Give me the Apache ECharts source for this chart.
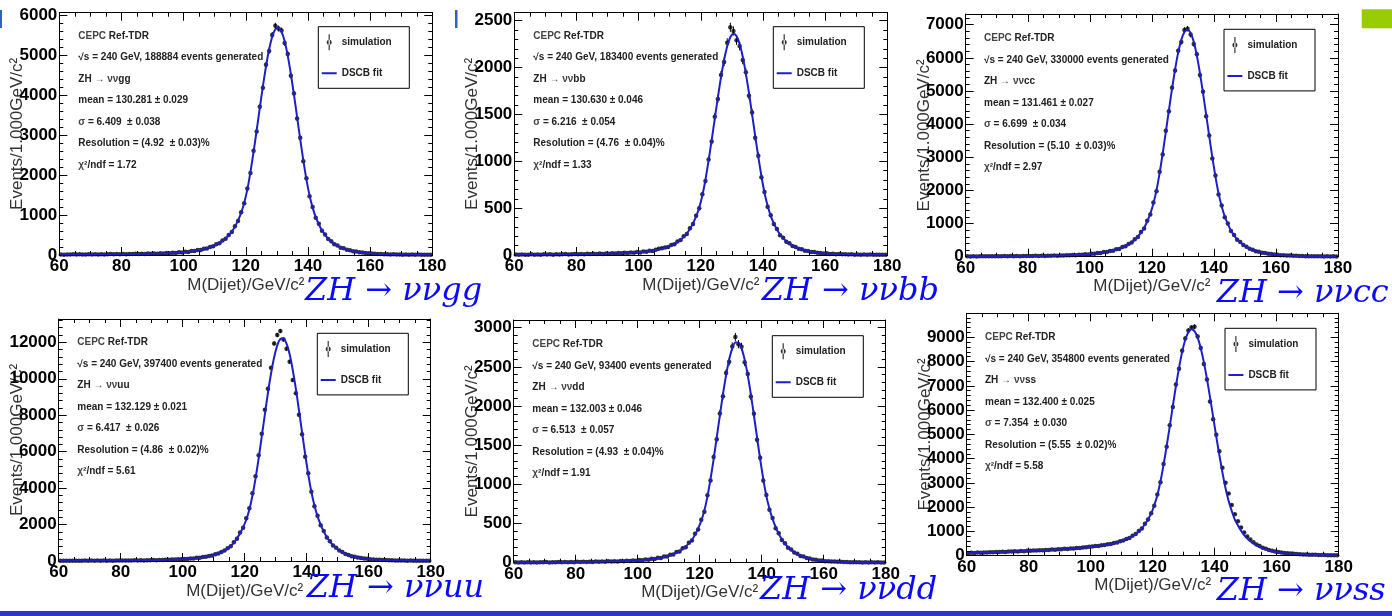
<!DOCTYPE html>
<html><head><meta charset="utf-8">
<script src="https://cdn.jsdelivr.net/npm/echarts@6/dist/echarts.min.js"></script>
<style>html,body{margin:0;padding:0;background:#fff;}#c{width:1392px;height:616px;}</style>
</head><body><div id="c"></div>
<script>
// ---- binning: 1 GeV bins from 60 to 180 GeV (bin centres) ----
const bins = [];
for (let i = 0; i < 120; i++) bins.push(60.5 + i);

// ---- channel labels and fit results (text) ----
const channels = ['gg', 'bb', 'cc', 'uu', 'dd', 'ss'];
const eventsGenerated = ['188884', '183400', '330000', '397400', '93400', '354800'];
const meanText = ['130.281 ± 0.029', '130.630 ± 0.046', '131.461 ± 0.027', '132.129 ± 0.021', '132.003 ± 0.046', '132.400 ± 0.025'];
const sigmaText = ['6.409  ± 0.038', '6.216  ± 0.054', '6.699  ± 0.034', '6.417  ± 0.026', '6.513  ± 0.057', '7.354  ± 0.030'];
const resolutionText = ['4.92  ± 0.03', '4.76  ± 0.04', '5.10  ± 0.03', '4.86  ± 0.02', '4.93  ± 0.04', '5.55  ± 0.02'];
const chi2Text = ['1.72', '1.33', '2.97', '5.61', '1.91', '5.58'];

// ---- y-axis ranges / tick steps ----
const yMax = [6067, 2585, 7322, 13280, 3098, 9989];
const yStep = [1000, 500, 1000, 2000, 500, 1000];
const xTickStep = 20;

// ---- simulated histograms (events / 1 GeV) ----
const ggData = [14,9,15,11,16,12,17,13,12,18, 13,19,14,21,15,17,22,16,24,19, 25,20,27,22,30,24,33,27,35,31, 40,33,44,39,49,45,56,51,66,62,
  81,78,98,101,124,127,155,164,203,219, 268,295,361,409,503,578,718,851,1072,1296, 1665,2056,2610,3091,3715,4190,4762,5108,5510,5740,
  5670,5620,5310,5030,4490,4045,3420,2935,2350,1920, 1470,1205,930,780,605,515,398,342,268,236, 183,166,129,116,92,86,68,63,47,46,
  35,34,26,25,19,21,15,16,11,14, 9,12,8,11,7,10,8,9,6,9];
const ggFit = [12,12,13,13,13,14,14,14,15,15, 15,16,16,17,17,18,18,19,20,21, 22,23,24,25,26,27,29,30,32,34, 36,38,40,43,45,48,52,56,61,67,
  76,84,92,105,117,131,149,170,195,225, 259,302,354,417,494,587,707,866,1055,1311, 1642,2081,2582,3124,3682,4224,4725,5147,5466,5654,
  5697,5593,5353,4987,4531,4008,3457,2902,2377,1894, 1493,1186,946,764,617,502,406,335,275,230, 189,160,134,112,96,82,71,60,50,44,
  38,32,28,24,21,19,17,14,13,12, 11,11,10,10,9,9,9,8,8,8];

const bbData = [5,2,6,3,4,7,3,6,4,8, 5,8,4,9,6,7,10,6,9,11, 8,12,9,13,10,14,11,15,12,17, 14,19,16,21,18,24,21,27,24,31,
  28,37,34,45,44,57,66,72,81,86, 108,116,145,159,199,225,286,330,420,498, 648,790,1020,1210,1475,1665,1920,2060,2265,2430,
  2390,2290,2230,2080,1950,1700,1520,1250,1060,830, 672,515,425,330,278,212,184,142,125,96, 86,66,61,46,44,32,32,24,22,17,
  18,12,13,9,10,7,8,5,7,4, 6,4,5,3,5,3,4,2,4,3];
const bbFit = [4,4,4,5,5,5,5,5,6,6, 6,6,6,7,7,7,8,8,8,9, 9,10,10,11,11,12,13,13,14,15, 16,17,18,19,20,22,23,25,27,29,
  31,34,37,42,47,53,60,68,78,89, 102,120,139,164,193,231,278,337,411,507, 635,803,1006,1226,1454,1683,1897,2083,2228,2323,
  2360,2335,2251,2114,1935,1727,1501,1270,1048,843, 661,526,418,337,272,219,179,147,122,100, 83,70,58,49,42,35,30,26,21,19,
  16,14,12,10,9,8,7,6,6,5, 5,5,4,4,4,4,3,3,3,3];

const ccData = [13,8,12,9,15,10,14,11,16,12, 17,12,18,13,19,15,20,16,21,18, 23,19,25,21,27,23,30,26,34,30, 39,34,45,40,52,47,61,56,73,70,
  90,91,112,110,139,143,172,180,222,236, 290,315,385,428,530,598,745,852,1085,1270, 1635,1975,2560,3080,3800,4385,5100,5620,6210,6480,
  6840,6880,6700,6420,6110,5480,4980,4240,3660,2960, 2450,1880,1545,1190,1000,775,655,512,442,350, 302,240,212,168,149,119,108,86,80,63,
  60,47,44,34,33,25,25,19,19,14, 16,12,14,10,12,9,11,8,10,7];
const ccFit = [10,11,11,11,12,12,12,13,13,13, 14,14,15,15,16,16,17,18,18,19, 20,21,22,23,24,25,27,29,31,33, 35,38,41,44,48,52,57,63,69,76,
  84,95,105,115,130,147,164,186,213,242, 279,323,373,438,514,610,726,870,1062,1295, 1603,2007,2521,3117,3761,4418,5062,5658,6165,6542,
  6781,6849,6745,6482,6067,5541,4933,4286,3632,2999, 2417,1911,1520,1212,984,791,642,524,434,358, 296,247,207,173,145,123,105,90,78,66,
  58,50,42,36,32,27,24,21,18,16, 15,14,13,12,11,11,10,10,9,9];

const uuData = [18,10,17,12,19,11,20,13,21,14, 22,14,23,16,24,18,26,19,28,21, 30,23,32,26,36,29,40,33,44,38, 50,45,58,53,67,64,79,77,94,94,
  113,116,139,143,172,180,215,230,278,304, 370,410,500,570,705,815,1030,1220,1560,1830, 2340,2890,3713,4650,5800,6980,8300,9450,10600,11940,
  12400,12620,12150,11650,10940,9930,9200,8020,6950,5720, 4810,3805,3000,2480,1960,1640,1290,1080,850,730, 570,490,385,332,265,233,186,166,134,119,
  96,87,69,65,52,50,39,38,29,28, 23,24,19,21,17,19,15,17,13,16];
const uuFit = [14,14,14,15,15,15,16,16,17,17, 18,18,19,20,20,21,22,23,24,25, 26,27,28,30,32,34,36,38,40,43, 46,50,54,58,63,69,75,82,90,98,
  108,120,133,148,165,185,208,235,270,310, 360,420,490,580,690,830,1000,1250,1507,1856, 2266,2830,3577,4533,5635,6823,8036,9224,10290,11184,
  11834,12189,12226,11929,11342,10484,9446,8283,7063,5870, 4749,3800,3050,2450,1990,1610,1310,1060,870,715, 585,480,395,325,272,228,192,162,138,116,
  100,85,72,63,55,48,41,36,31,27, 25,23,21,20,19,18,17,16,15,15];

const ddData = [6,3,5,2,7,4,6,3,7,5, 8,4,7,5,9,6,8,6,10,7, 11,8,12,9,13,10,14,11,15,12, 17,14,19,16,21,18,24,21,27,25,
  33,30,42,38,50,47,64,60,79,80, 102,106,135,142,184,198,256,283,368,425, 548,650,862,1050,1350,1575,1905,2125,2420,2565,
  2760,2880,2790,2755,2560,2410,2120,1900,1570,1340, 1050,865,675,570,440,375,290,248,192,167, 129,113,87,78,60,54,41,39,29,28,
  20,20,15,15,11,12,8,9,6,7, 5,6,4,6,3,5,3,5,2,4];
const ddFit = [4,4,5,5,5,5,5,5,6,6, 6,6,6,7,7,7,8,8,8,9, 9,9,10,10,11,11,12,13,13,14, 15,16,17,18,19,20,22,23,25,27,
  29,32,37,41,45,51,58,64,73,83, 96,111,128,149,175,207,246,293,355,437, 533,666,843,1069,1323,1599,1878,2149,2391,2592,
  2736,2810,2810,2736,2592,2391,2149,1878,1599,1323, 1069,850,690,560,455,368,298,243,198,163, 134,110,91,75,63,52,44,37,31,26,
  22,19,16,14,12,11,9,8,7,6, 6,5,5,5,4,4,4,4,3,3];

const ssData = [104,118,112,128,120,135,129,145,138,152, 149,165,157,175,168,184,177,195,188,206, 199,217,210,229,222,240,234,254,248,268,
  262,284,279,300,297,320,318,342,344,368, 376,402,403,432,438,471,481,522,541,591, 622,690,733,822,890,1015,1118,1312,1490,1752,
  2060,2520,3030,3780,4490,5380,6130,7050,7700,8450, 8950,9280,9400,9437,9030,8560,7900,7260,6350,5620,
  4980,4300,3620,3010,2560,2090,1710,1420,1160,960, 790,665,550,460,395,330,282,238,205,176, 150,133,116,100,88,79,67,59,51,46,
  41,36,34,29,27,24,23,20,19,17];
const ssFit = [109,113,117,122,126,130,135,139,144,148, 154,158,163,168,173,178,183,188,194,199, 205,210,216,222,228,234,240,247,254,261,
  269,277,285,294,304,314,325,337,349,363, 381,395,408,424,443,464,486,514,546,583, 629,680,741,811,897,1001,1127,1297,1501,1733,
  2078,2493,3057,3741,4517,5330,6171,6994,7742,8398, 8897,9212,9335,9254,8987,8552,7971,7289,6524,5724,
  4914,4151,3424,2781,2251,1840,1485,1247,1029,851, 709,596,504,421,361,303,260,222,191,164, 141,124,110,93,82,74,63,54,48,43,
  38,34,31,28,25,23,21,19,18,16];

const panelData = [ggData, bbData, ccData, uuData, ddData, ssData];
const panelFit = [ggFit, bbFit, ccFit, uuFit, ddFit, ssFit];

// ---- layout (pixels) ----
const frames = [[59.3,12.7,373,242.3],[514.3,12.7,373,242.3],[965.7,14,372.3,242.7],[58.7,319,372,242],[513.7,320,372,242.7],[966.7,313.3,372,242.4]];
const statPos = [[78.3,25],[533.3,25],[984,27.5],[77.3,331.5],[532.3,333.5],[985,326.5]];
const legendPos = [[318.3,26.7],[773.3,26.7],[1224,29.3],[317.3,333.3],[772.3,335.7],[1225,328.3]];
const tagPos = [[305,291.7],[761.7,291.7],[1216.7,293.3],[306.7,589],[760,590.8],[1216.7,591.7]];

const FIT_BLUE = '#1f1fc8';
const SANS = 'Liberation Sans';
const simIcon = 'path://M0 0L0 0ZM15 16L15 16ZM6.9 0h1.2v16h-1.2ZM5 8a2.5 2.5 0 1 0 5 0a2.5 2.5 0 1 0 -5 0Z';
const fitIcon = 'path://M0 0L0 0ZM15 16L15 16ZM0 7h15v2h-15Z';

const grids = [], xAxes = [], yAxes = [], series = [], titles = [], legends = [], graphics = [];
const lineBlack = {show: true, onZero: false, lineStyle: {color: '#000', width: 1}};
const tickLabel = {color: '#000', fontFamily: SANS, fontWeight: 'bold', fontSize: 17};
const nameStyle = {color: '#333', fontFamily: SANS, fontSize: 17};

frames.forEach((f, i) => {
  grids.push({left: f[0], top: f[1], width: f[2], height: f[3], containLabel: false, outerBoundsMode: 'none'});
  const xCommon = {type: 'value', gridIndex: i, min: 60, max: 180, interval: xTickStep,
    axisLine: lineBlack, splitLine: {show: false}, minorSplitLine: {show: false},
    axisTick: {show: true, inside: true, length: 8, lineStyle: {color: '#000'}},
    minorTick: {show: true, splitNumber: 4, length: 4, lineStyle: {color: '#000'}}};
  xAxes.push(Object.assign({}, xCommon, {position: 'bottom',
    axisLabel: Object.assign({show: true, margin: 3}, tickLabel),
    name: 'M(Dijet)/GeV/c²', nameLocation: 'middle', nameGap: 21.5, nameMoveOverlap: false, nameTextStyle: nameStyle}));
  xAxes.push(Object.assign({}, xCommon, {position: 'top', axisLabel: {show: false}}));

  const step = yStep[i];
  const yCommon = {type: 'value', gridIndex: i, min: 0, max: yMax[i], splitLine: {show: false}};
  yAxes.push(Object.assign({}, yCommon, {position: 'left', interval: step, axisLine: lineBlack,
    axisTick: {show: true, inside: true, length: 8, lineStyle: {color: '#000'}},
    axisLabel: Object.assign({show: true, margin: 2, formatter: v => (v % step === 0 ? String(v) : '')}, tickLabel),
    name: 'Events/1.000GeV/c²', nameLocation: 'middle', nameRotate: 90, nameGap: 33, nameMoveOverlap: false, nameTextStyle: nameStyle}));
  yAxes.push(Object.assign({}, yCommon, {position: 'left', interval: step / 5, axisLine: {show: false},
    axisTick: {show: true, inside: true, length: 4, lineStyle: {color: '#000'}}, axisLabel: {show: false}}));
  yAxes.push(Object.assign({}, yCommon, {position: 'right', interval: step, axisLine: lineBlack,
    axisTick: {show: true, inside: true, length: 8, lineStyle: {color: '#000'}}, axisLabel: {show: false}}));
  yAxes.push(Object.assign({}, yCommon, {position: 'right', interval: step / 5, axisLine: {show: false},
    axisTick: {show: true, inside: true, length: 4, lineStyle: {color: '#000'}}, axisLabel: {show: false}}));

  const pts = bins.map((x, k) => [x, panelData[i][k]]);
  const fit = bins.map((x, k) => [x, panelFit[i][k]]);
  series.push({type: 'custom', xAxisIndex: 2 * i, yAxisIndex: 4 * i, data: pts, silent: true, z: 2, clip: true,
    renderItem: (params, api) => {
      const x = api.value(0), y = api.value(1), e = Math.sqrt(Math.max(y, 0));
      const a = api.coord([x, y - e]), b = api.coord([x, y + e]);
      return {type: 'line', shape: {x1: a[0], y1: a[1], x2: b[0], y2: b[1]}, style: {stroke: '#000', lineWidth: 1}};
    }});
  series.push({name: 'simulation', type: 'scatter', xAxisIndex: 2 * i, yAxisIndex: 4 * i, data: pts,
    symbol: 'circle', symbolSize: 4.5, itemStyle: {color: '#000'}, z: 3, silent: true});
  series.push({name: 'DSCB fit', type: 'line', xAxisIndex: 2 * i, yAxisIndex: 4 * i, data: fit,
    showSymbol: false, symbol: 'none', smooth: 0.25, itemStyle: {color: FIT_BLUE},
    lineStyle: {color: FIT_BLUE, width: 2}, z: 4, silent: true});

  titles.push({left: statPos[i][0], top: statPos[i][1], padding: 0,
    text: '{r|CEPC} {b|Ref-TDR}\n' +
      '{b|√s = 240 GeV, ' + eventsGenerated[i] + ' events generated}\n' +
      '{b|ZH} {r|→ νν}{b|' + channels[i] + '}\n' +
      '{b|mean = ' + meanText[i] + '}\n' +
      '{r|σ}{b| = ' + sigmaText[i] + '}\n' +
      '{b|Resolution = (' + resolutionText[i] + ')%}\n' +
      '{r|χ}{b|²/ndf = ' + chi2Text[i] + '}',
    textStyle: {fontSize: 10, fontFamily: SANS, color: '#222', lineHeight: 21.5,
      rich: {
        r: {fontSize: 10, fontFamily: SANS, color: '#444', lineHeight: 21.5},
        b: {fontSize: 10, fontFamily: SANS, fontWeight: 'bold', color: '#222', lineHeight: 21.5}
      }}});

  legends.push({left: legendPos[i][0], top: legendPos[i][1], orient: 'vertical', padding: [7.6, 17.6, 7, 3.4],
    itemWidth: 15, itemHeight: 16, itemGap: 15, borderColor: '#000', borderWidth: 1, borderRadius: 0,
    backgroundColor: '#fff', selectedMode: false, itemStyle: {borderWidth: 0},
    textStyle: {fontSize: 10, fontWeight: 'bold', fontFamily: SANS, color: '#222'},
    data: [{name: 'simulation', icon: simIcon}, {name: 'DSCB fit', icon: fitIcon}]});

  graphics.push({type: 'text', x: tagPos[i][0], y: tagPos[i][1], z: 100,
    style: {text: 'ZH → νν' + channels[i], fill: '#0a0aff', font: 'italic 32px "DejaVu Serif"',
      align: 'left', verticalAlign: 'middle'}});
});

// slide decorations
graphics.push({type: 'rect', shape: {x: 1361.7, y: 9.3, width: 31, height: 19}, style: {fill: '#99cc00'}, z: 90});
graphics.push({type: 'rect', shape: {x: 0, y: 10, width: 2, height: 18}, style: {fill: '#3060c8'}, z: 90});
graphics.push({type: 'rect', shape: {x: 455, y: 10, width: 2.5, height: 18}, style: {fill: '#3060c8'}, z: 90});
graphics.push({type: 'rect', shape: {x: 0, y: 611, width: 1392, height: 5}, style: {fill: '#3333cc'}, z: 90});

const chart = echarts.init(document.getElementById('c'), null, {renderer: 'canvas'});
chart.setOption({
  animation: false,
  backgroundColor: '#fff',
  grid: grids, xAxis: xAxes, yAxis: yAxes, series: series,
  title: titles, legend: legends, graphic: graphics,
  tooltip: {show: false}
});
</script></body></html>
